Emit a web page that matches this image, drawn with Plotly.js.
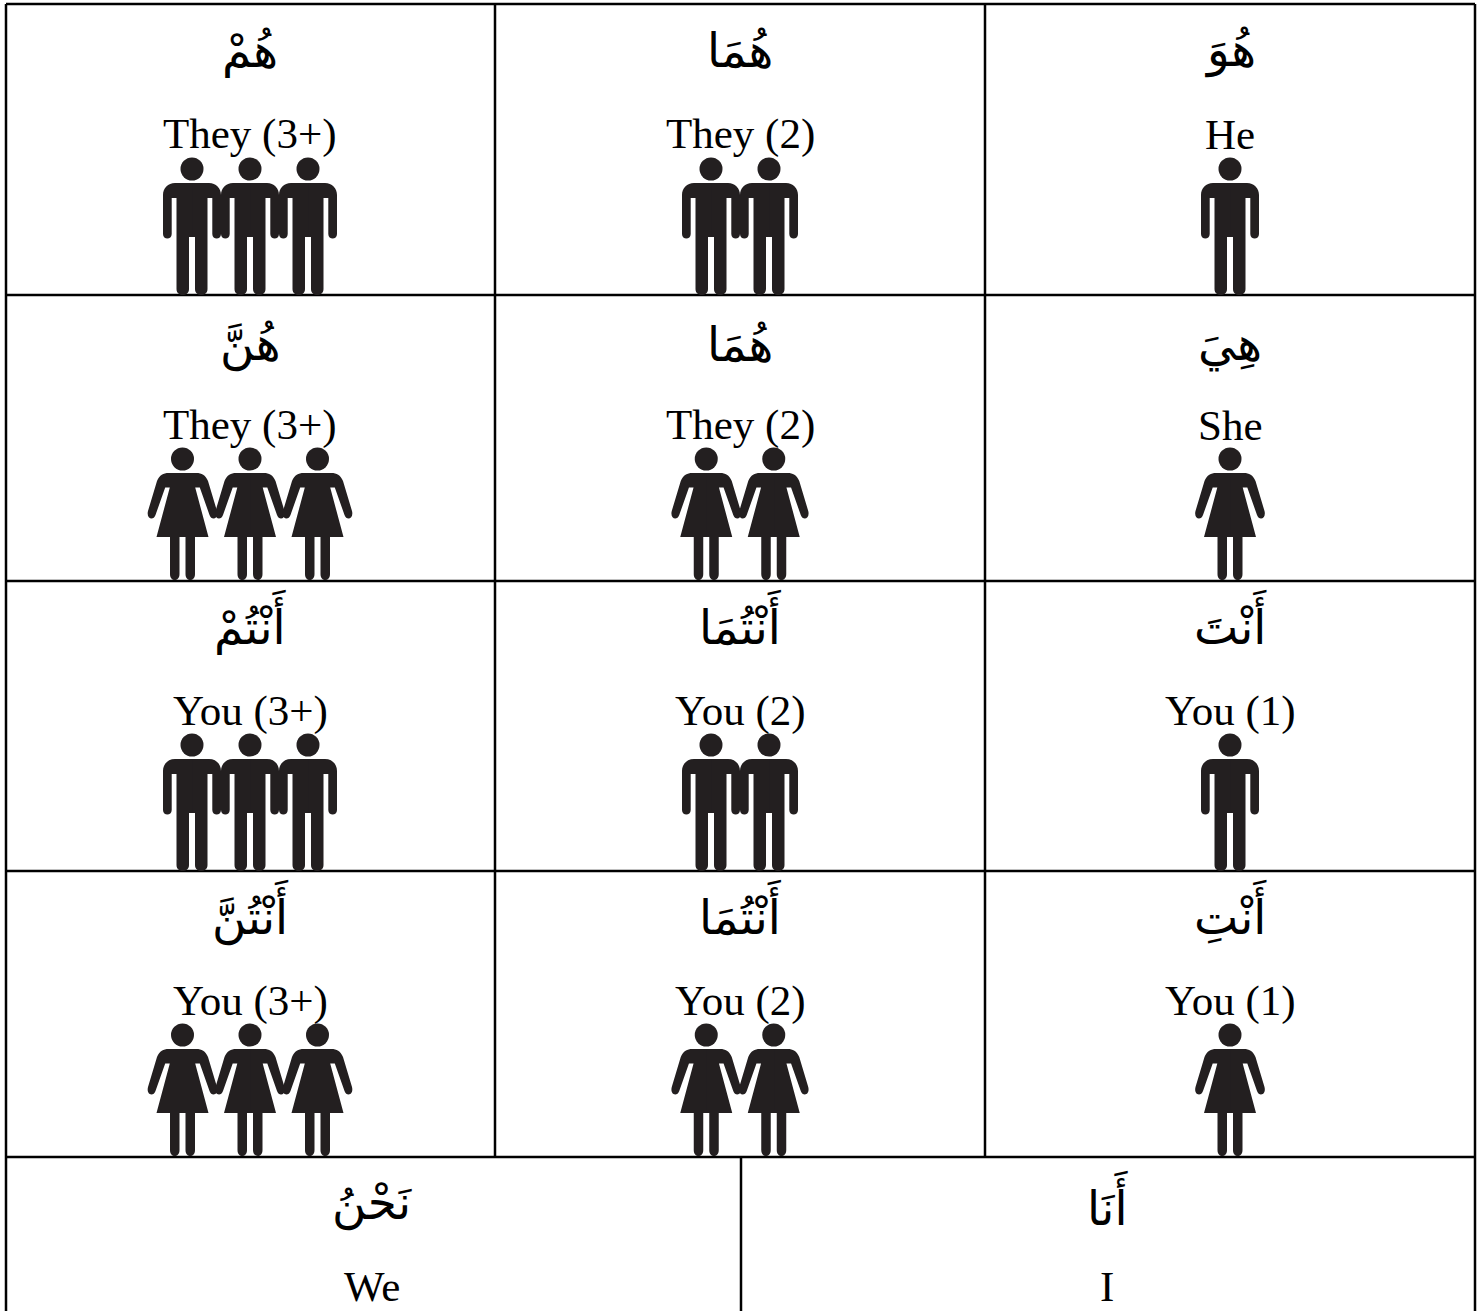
<!DOCTYPE html>
<html>
<head>
<meta charset="utf-8">
<script src="https://cdn.plot.ly/plotly-3.0.1.min.js"></script>
<style>html,body{margin:0;padding:0;background:#fff}</style>
</head>
<body>
<div id="plot" style="width:1484px;height:1311px"></div>
<script>
// Table content, one list per row, left column first
let arabicRows = [
    ['هُمْ', 'هُمَا', 'هُوَ'],
    ['هُنَّ', 'هُمَا', 'هِيَ'],
    ['أَنْتُمْ', 'أَنْتُمَا', 'أَنْتَ'],
    ['أَنْتُنَّ', 'أَنْتُمَا', 'أَنْتِ']
];
let englishRows = [
    ['They (3+)', 'They (2)', 'He'],
    ['They (3+)', 'They (2)', 'She'],
    ['You (3+)', 'You (2)', 'You (1)'],
    ['You (3+)', 'You (2)', 'You (1)']
];
let peopleCounts = [3, 2, 1];
let rowGender = ['m', 'f', 'm', 'f'];
let lastRowArabic = ['نَحْنُ', 'أَنَا'];
let lastRowEnglish = ['We', 'I'];

// Grid positions on the axes
let rowLines = [4, 295, 581, 871, 1157];
let colLines = [6, 495, 985, 1475];
let lastRowSplit = 741;
let colCentres = [250, 740, 1230];
let lastRowCentres = [372, 1107];
let englishY = [134, 425, 711, 1001];
let arabicY = [50, 344, 622, 912];
let inkColor = '#231f20';

let shapes = [];
let annotations = [];

function gridLine(x0, y0, x1, y1) {
    shapes.push({type: 'line', xref: 'x', yref: 'y', x0: x0, y0: y0, x1: x1, y1: y1,
        line: {color: '#000', width: 2.5}});
}

function label(x, y, text, isArabic) {
    annotations.push({
        x: x, y: y, xref: 'x', yref: 'y', text: text, showarrow: false,
        xanchor: 'center', yanchor: 'middle',
        font: isArabic ? {family: 'DejaVu Sans', size: 47, color: '#000'}
                       : {family: 'Liberation Serif', size: 43, color: '#000'}
    });
}

// One half of a figure, side is 1 or -1
function halfPath(cx, cy, side, gender) {
    let pts = gender === 'm'
        ? 'M-0.5,14 L17,14 C24,14 29,19 29,26 L29,65 C29,71 20.3,71 20.3,65 L20.3,29 L15.5,29 L15.5,120 C15.5,128 3,128 3,120 L3,68 L-0.5,68 Z'
        : 'M-0.5,14 L14,14 C19,14 23,16 25.5,22 L34.5,52 C36.5,60 29,62 27,56 L17.3,28.5 L12.7,28.5 L26,78 L12.5,78 L12.5,115 C12.5,123 3,123 3,115 L3,78 L-0.5,78 Z';
    return pts.replace(/(-?[\d.]+),(-?[\d.]+)/g, function (m, a, b) {
        return (cx + side * parseFloat(a)) + ',' + (cy + parseFloat(b));
    });
}

function person(cx, rowBottom, gender) {
    let cy = rowBottom - (gender === 'm' ? 126 : 122);
    let r = 11.5;
    let style = {xref: 'x', yref: 'y', fillcolor: inkColor, line: {width: 0}};
    shapes.push(Object.assign({type: 'circle', x0: cx - r, x1: cx + r, y0: cy - r, y1: cy + r}, style));
    shapes.push(Object.assign({type: 'path', path: halfPath(cx, cy, 1, gender)}, style));
    shapes.push(Object.assign({type: 'path', path: halfPath(cx, cy, -1, gender)}, style));
}

// Grid
rowLines.forEach(function (y) { gridLine(colLines[0], y, colLines[3], y); });
colLines.forEach(function (x, i) {
    if (i === 0 || i === 3) {
        gridLine(x, rowLines[0], x, 1311);
    } else {
        gridLine(x, rowLines[0], x, rowLines[4]);
    }
});
gridLine(lastRowSplit, rowLines[4], lastRowSplit, 1311);

// Cells
for (let r = 0; r < arabicRows.length; r++) {
    for (let c = 0; c < colCentres.length; c++) {
        label(colCentres[c], arabicY[r], arabicRows[r][c], true);
        label(colCentres[c], englishY[r], englishRows[r][c], false);
        let gender = rowGender[r];
        let step = gender === 'm' ? 58 : 67.5;
        let n = peopleCounts[c];
        for (let k = 0; k < n; k++) {
            person(colCentres[c] + (k - (n - 1) / 2) * step, rowLines[r + 1], gender);
        }
    }
}

for (let c = 0; c < lastRowCentres.length; c++) {
    label(lastRowCentres[c], 1203, lastRowArabic[c], true);
    label(lastRowCentres[c], 1286, lastRowEnglish[c], false);
}

let layout = {
    width: 1484,
    height: 1311,
    margin: {l: 0, r: 0, t: 0, b: 0},
    paper_bgcolor: '#fff',
    plot_bgcolor: '#fff',
    showlegend: false,
    xaxis: {range: [0, 1484], visible: false, fixedrange: true},
    yaxis: {range: [1311, 0], visible: false, fixedrange: true},
    shapes: shapes,
    annotations: annotations
};

Plotly.newPlot('plot', [], layout, {displayModeBar: false, staticPlot: true});
</script>
</body>
</html>
